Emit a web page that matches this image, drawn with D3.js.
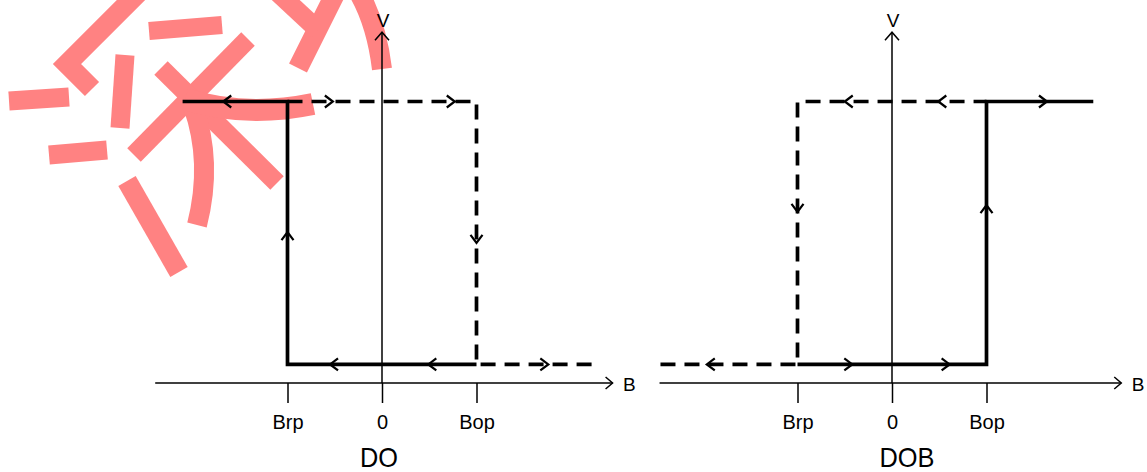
<!DOCTYPE html>
<html>
<head>
<meta charset="utf-8">
<script src="https://cdn.jsdelivr.net/npm/d3@7"></script>
<style>
  html, body { margin: 0; padding: 0; background: #fff; }
  svg { display: block; }
  text { font-family: "Liberation Sans", Arial, sans-serif; fill: #000; }
  .title { font-family: "Liberation Sans Narrow", "Arial Narrow", "Liberation Sans", sans-serif; }
</style>
</head>
<body>
<svg id="chart" width="1147" height="472"></svg>
<script>
// Switching thresholds on the flux-density axis
const bTickValues = [-1, 0, 1];
const bTickLabels = ["Brp", "0", "Bop"];

// Output levels
const vHigh = 5;
const vLow = 0.33;
const vAxisTop = 6.23;

// Panel names
const panelNames = ["DO", "DOB"];

// Output traces as [B, V] points
const doSolid  = [[-2.11, vHigh], [-1, vHigh], [-1, vLow], [1, vLow]];
const doDashed = [[-1, vHigh], [1, vHigh], [1, vLow], [2.27, vLow]];
const dobSolid  = [[-1, vLow], [1, vLow], [1, vHigh], [2.13, vHigh]];
const dobDashed = [[-2.45, vLow], [-1, vLow], [-1, vHigh], [1, vHigh]];

// Direction markers along the traces: [B, V, direction]
const doArrows = [
  [-1.68, vHigh, "left"], [-1, 2.68, "up"], [-0.55, vLow, "left"], [0.49, vLow, "left"],
  [-0.52, vHigh, "right"], [0.77, vHigh, "right"], [1, 2.49, "down"], [1.76, vLow, "right"]
];
const dobArrows = [
  [-1.96, vLow, "left"], [-0.42, vLow, "right"], [0.61, vLow, "right"], [1, 3.16, "up"],
  [-1, 3.04, "down"], [-0.50, vHigh, "left"], [0.49, vHigh, "left"], [1.64, vHigh, "right"]
];

// B-axis extents for each panel
const doAxisExtent = [-2.4, 2.44];
const dobAxisExtent = [-2.46, 2.426];

const svg = d3.select("#chart");

// Seal strokes drawn beneath the diagrams
const sealStrokes = [
  { d: "M145,-14 L67,64 L92,89", w: 20 },
  { d: "M9,101 L69,97", w: 19 },
  { d: "M49,155 L107,150", w: 19 },
  { d: "M125,55 L120,128", w: 19 },
  { d: "M149,31 L222,25", w: 18 },
  { d: "M127,181 L179,272", w: 20 },
  { d: "M134,155 L248,39", w: 19 },
  { d: "M161,68 L277,183", w: 19 },
  { d: "M193,106 Q213,162 197,225", w: 20 },
  { d: "M185,99 Q245,118 313,104", w: 22 },
  { d: "M342,-20 L298,68", w: 20 },
  { d: "M275,-10 L318,30", w: 19 },
  { d: "M356,-12 Q376,20 382,69", w: 20 }
];
svg.append("g").selectAll("path").data(sealStrokes).join("path")
  .attr("d", s => s.d)
  .attr("fill", "none")
  .attr("stroke", "#ff8282")
  .attr("stroke-width", s => s.w)
  .attr("stroke-linecap", "butt")
  .attr("stroke-linejoin", "miter");

const unit = 94.5;
const y = d3.scaleLinear().domain([0, vHigh]).range([383, 101.5]);

const chevrons = {
  left:  "M8,-6 L0,0 L8,6",
  right: "M-8,-6 L0,0 L-8,6",
  up:    "M-6,8 L0,0 L6,8",
  down:  "M-6,-8 L0,0 L6,-8"
};

function drawPanel(cx, name, titleX, titleWidth, extent, solid, dashed, arrows) {
  const x = d3.scaleLinear().domain([-1, 1]).range([cx - unit, cx + unit]);
  const g = svg.append("g");
  const line = d3.line().x(d => x(d[0])).y(d => y(d[1]));

  // B axis with ticks and labels
  const axis = d3.axisBottom(x)
    .tickValues(bTickValues)
    .tickFormat((d, i) => bTickLabels[i])
    .tickSizeInner(20)
    .tickSizeOuter(0)
    .tickPadding(12);
  const ag = g.append("g").attr("transform", `translate(0,${y(0)})`).call(axis);
  ag.select(".domain").remove();
  ag.selectAll(".tick line").attr("stroke", "#000").attr("stroke-width", 1.5);
  ag.selectAll(".tick text")
    .attr("fill", "#000")
    .style("font-size", "20px")
    .style("font-family", "'Liberation Sans', Arial, sans-serif");

  g.append("line")
    .attr("x1", x(extent[0])).attr("x2", x(extent[1]))
    .attr("y1", y(0)).attr("y2", y(0))
    .attr("stroke", "#000").attr("stroke-width", 1.5);
  g.append("path")
    .attr("d", "M-7,-6 L0,0 L-7,6")
    .attr("transform", `translate(${x(extent[1])},${y(0)})`)
    .attr("fill", "none").attr("stroke", "#000").attr("stroke-width", 1.5);
  g.append("text")
    .attr("x", x(extent[1]) + 10.5).attr("y", y(0) + 8)
    .style("font-size", "19px")
    .text("B");

  // V axis
  g.append("line")
    .attr("x1", x(0)).attr("x2", x(0))
    .attr("y1", y(0)).attr("y2", y(vAxisTop))
    .attr("stroke", "#000").attr("stroke-width", 1.5);
  g.append("path")
    .attr("d", "M-7,8 L0,0 L7,8")
    .attr("transform", `translate(${x(0)},${y(vAxisTop)})`)
    .attr("fill", "none").attr("stroke", "#000").attr("stroke-width", 1.5);
  g.append("text")
    .attr("x", x(0) + 1).attr("y", 27)
    .attr("text-anchor", "middle")
    .style("font-size", "19px")
    .text("V");

  // Traces
  g.append("path").attr("d", line(dashed))
    .attr("fill", "none").attr("stroke", "#000").attr("stroke-width", 3.7)
    .attr("stroke-dasharray", "15,9").attr("stroke-linejoin", "miter");
  g.append("path").attr("d", line(solid))
    .attr("fill", "none").attr("stroke", "#000").attr("stroke-width", 3.7)
    .attr("stroke-linejoin", "miter");

  g.append("g").selectAll("path").data(arrows).join("path")
    .attr("d", d => chevrons[d[2]])
    .attr("transform", d => `translate(${x(d[0])},${y(d[1])})`)
    .attr("fill", "none").attr("stroke", "#000").attr("stroke-width", 2.2);

  // Panel title
  g.append("text")
    .attr("class", "title")
    .attr("x", titleX).attr("y", 467)
    .attr("text-anchor", "middle")
    .attr("textLength", titleWidth)
    .attr("lengthAdjust", "spacingAndGlyphs")
    .style("font-size", "28px")
    .text(name);
}

drawPanel(382, panelNames[0], 379, 38, doAxisExtent, doSolid, doDashed, doArrows);
drawPanel(892, panelNames[1], 907, 55, dobAxisExtent, dobSolid, dobDashed, dobArrows);
</script>
</body>
</html>
